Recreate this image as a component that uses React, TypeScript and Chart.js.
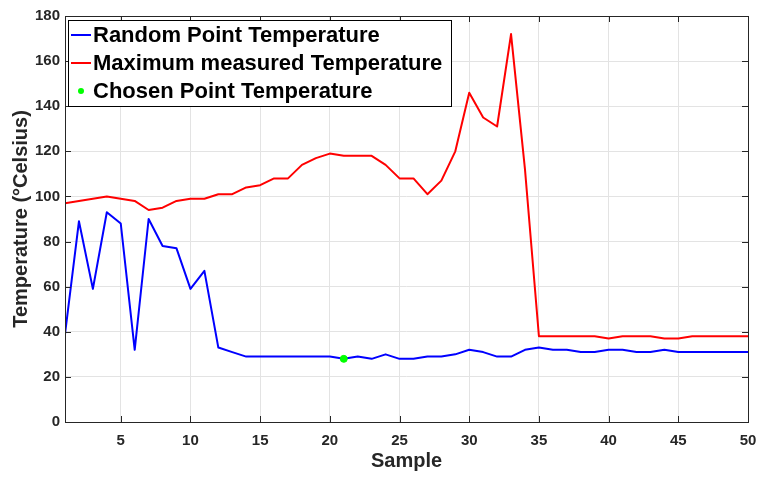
import React, { useEffect, useRef } from "react";
import { Chart, registerables } from "chart.js";

Chart.register(...registerables);

const samples = [
  1, 2, 3, 4, 5, 6, 7, 8, 9, 10, 11, 12, 13, 14, 15, 16, 17, 18, 19, 20, 21, 22, 23, 24, 25,
  26, 27, 28, 29, 30, 31, 32, 33, 34, 35, 36, 37, 38, 39, 40, 41, 42, 43, 44, 45, 46, 47, 48, 49, 50,
];

const randomPointTemp = [
  39, 89, 59, 93, 88, 32, 90, 78, 77, 59, 67, 33, 31, 29, 29, 29, 29, 29, 29, 29, 28, 29, 28, 30, 28,
  28, 29, 29, 30, 32, 31, 29, 29, 32, 33, 32, 32, 31, 31, 32, 32, 31, 31, 32, 31, 31, 31, 31, 31, 31,
];

const maxMeasuredTemp = [
  97, 98, 99, 100, 99, 98, 94, 95, 98, 99, 99, 101, 101, 104, 105, 108, 108, 114, 117, 119, 118, 118, 118, 114, 108,
  108, 101, 107, 120, 146, 135, 131, 172, 112, 38, 38, 38, 38, 38, 37, 38, 38, 38, 37, 37, 38, 38, 38, 38, 38,
];

const chosenSample = [21];
const chosenTemp = [28];

const xTicks = [5, 10, 15, 20, 25, 30, 35, 40, 45, 50];
const yTicks = [0, 20, 40, 60, 80, 100, 120, 140, 160, 180];

const legendLabels = [
  "Random Point Temperature",
  "Maximum measured Temperature",
  "Chosen Point Temperature",
];

const FONT = "'Liberation Sans', Arial, Helvetica, sans-serif";
const AXIS_COLOR = "#262626";
const GRID_COLOR = "#e3e3e3";
const BLUE = "#0000ff";
const RED = "#ff0000";
const GREEN = "#00ff00";

const boxTicksPlugin = {
  id: "boxTicks",
  afterDatasetsDraw(chart: any) {
    const { ctx, chartArea } = chart;
    const { left, right, top, bottom } = chartArea;
    const xs = chart.scales.x;
    const ys = chart.scales.y;
    const len = 6;
    ctx.save();
    ctx.strokeStyle = AXIS_COLOR;
    ctx.lineWidth = 1;
    ctx.beginPath();
    xTicks.forEach((v) => {
      const px = Math.round(xs.getPixelForValue(v)) + 0.5;
      ctx.moveTo(px, bottom);
      ctx.lineTo(px, bottom - len);
      ctx.moveTo(px, top);
      ctx.lineTo(px, top + len);
    });
    yTicks.forEach((v) => {
      const py = Math.round(ys.getPixelForValue(v)) + 0.5;
      ctx.moveTo(left, py);
      ctx.lineTo(left + len, py);
      ctx.moveTo(right, py);
      ctx.lineTo(right - len, py);
    });
    ctx.stroke();
    ctx.strokeRect(Math.round(left) + 0.5, Math.round(top) + 0.5, Math.round(right - left), Math.round(bottom - top));
    ctx.restore();
  },
};

const legendPlugin = {
  id: "boxLegend",
  afterDraw(chart: any) {
    const { ctx, chartArea } = chart;
    const x0 = chartArea.left + 3;
    const y0 = chartArea.top + 4;
    const w = 383;
    const h = 86;
    ctx.save();
    ctx.fillStyle = "#ffffff";
    ctx.fillRect(x0, y0, w, h);
    ctx.strokeStyle = "#000000";
    ctx.lineWidth = 1;
    ctx.strokeRect(Math.round(x0) + 0.5, Math.round(y0) + 0.5, w, h);
    const rows = [y0 + 15, y0 + 43, y0 + 71];
    const colors = [BLUE, RED, GREEN];
    ctx.font = `bold 22px ${FONT}`;
    ctx.textBaseline = "middle";
    ctx.textAlign = "left";
    rows.forEach((ry, i) => {
      if (i < 2) {
        ctx.strokeStyle = colors[i];
        ctx.lineWidth = 2;
        ctx.beginPath();
        ctx.moveTo(x0 + 3, ry);
        ctx.lineTo(x0 + 23, ry);
        ctx.stroke();
      } else {
        ctx.fillStyle = colors[i];
        ctx.beginPath();
        ctx.arc(x0 + 13, ry, 3, 0, Math.PI * 2);
        ctx.fill();
      }
      ctx.fillStyle = "#000000";
      ctx.fillText(legendLabels[i], x0 + 25, ry + 1);
    });
    ctx.restore();
  },
};

export default function App() {
  const canvasRef = useRef<HTMLCanvasElement | null>(null);

  useEffect(() => {
    if (!canvasRef.current) return;
    const chart = new Chart(canvasRef.current, {
      type: "line",
      data: {
        datasets: [
          {
            label: legendLabels[2],
            data: chosenSample.map((s, i) => ({ x: s, y: chosenTemp[i] })),
            showLine: false,
            pointRadius: 3.5,
            pointBackgroundColor: GREEN,
            pointBorderColor: GREEN,
            borderColor: GREEN,
            backgroundColor: GREEN,
            order: 0,
          },
          {
            label: legendLabels[0],
            data: samples.map((s, i) => ({ x: s, y: randomPointTemp[i] })),
            borderColor: BLUE,
            backgroundColor: BLUE,
            borderWidth: 2,
            pointRadius: 0,
            tension: 0,
            borderJoinStyle: "round",
            order: 1,
          },
          {
            label: legendLabels[1],
            data: samples.map((s, i) => ({ x: s, y: maxMeasuredTemp[i] })),
            borderColor: RED,
            backgroundColor: RED,
            borderWidth: 2,
            pointRadius: 0,
            tension: 0,
            borderJoinStyle: "round",
            order: 2,
          },
        ],
      },
      options: {
        animation: false,
        responsive: true,
        maintainAspectRatio: false,
        layout: { padding: { left: 0, right: 9, top: 16, bottom: 0 } },
        plugins: {
          legend: { display: false },
          tooltip: { enabled: false },
        },
        scales: {
          x: {
            type: "linear",
            min: 1,
            max: 50,
            grid: { color: GRID_COLOR, drawTicks: false },
            border: { display: false },
            ticks: {
              font: { family: FONT, size: 15, weight: "bold" },
              color: AXIS_COLOR,
              padding: 10,
              maxRotation: 0,
            },
            title: {
              display: true,
              text: "Sample",
              font: { family: FONT, size: 20, weight: "bold" },
              color: AXIS_COLOR,
              padding: { top: 0, bottom: 4 },
            },
            afterBuildTicks: (s: any) => {
              s.ticks = xTicks.map((v) => ({ value: v }));
            },
            afterFit: (s: any) => {
              s.height = 55;
              s.paddingLeft = 0;
              s.paddingRight = 0;
            },
          },
          y: {
            type: "linear",
            min: 0,
            max: 180,
            grid: { color: GRID_COLOR, drawTicks: false },
            border: { display: false },
            ticks: {
              font: { family: FONT, size: 15, weight: "bold" },
              color: AXIS_COLOR,
              padding: 5,
            },
            title: {
              display: true,
              text: "Temperature (°Celsius)",
              font: { family: FONT, size: 20, weight: "bold" },
              color: AXIS_COLOR,
              padding: { top: 9, bottom: 0 },
            },
            afterBuildTicks: (s: any) => {
              s.ticks = yTicks.map((v) => ({ value: v }));
            },
            afterFit: (s: any) => {
              s.width = 65;
              s.paddingTop = 0;
              s.paddingBottom = 0;
            },
          },
        },
      },
      plugins: [boxTicksPlugin, legendPlugin],
    } as any);
    return () => chart.destroy();
  }, []);

  return (
    <div style={{ position: "fixed", left: 0, top: 0, width: 757, height: 477, background: "#ffffff" }}>
      <canvas ref={canvasRef} />
    </div>
  );
}
